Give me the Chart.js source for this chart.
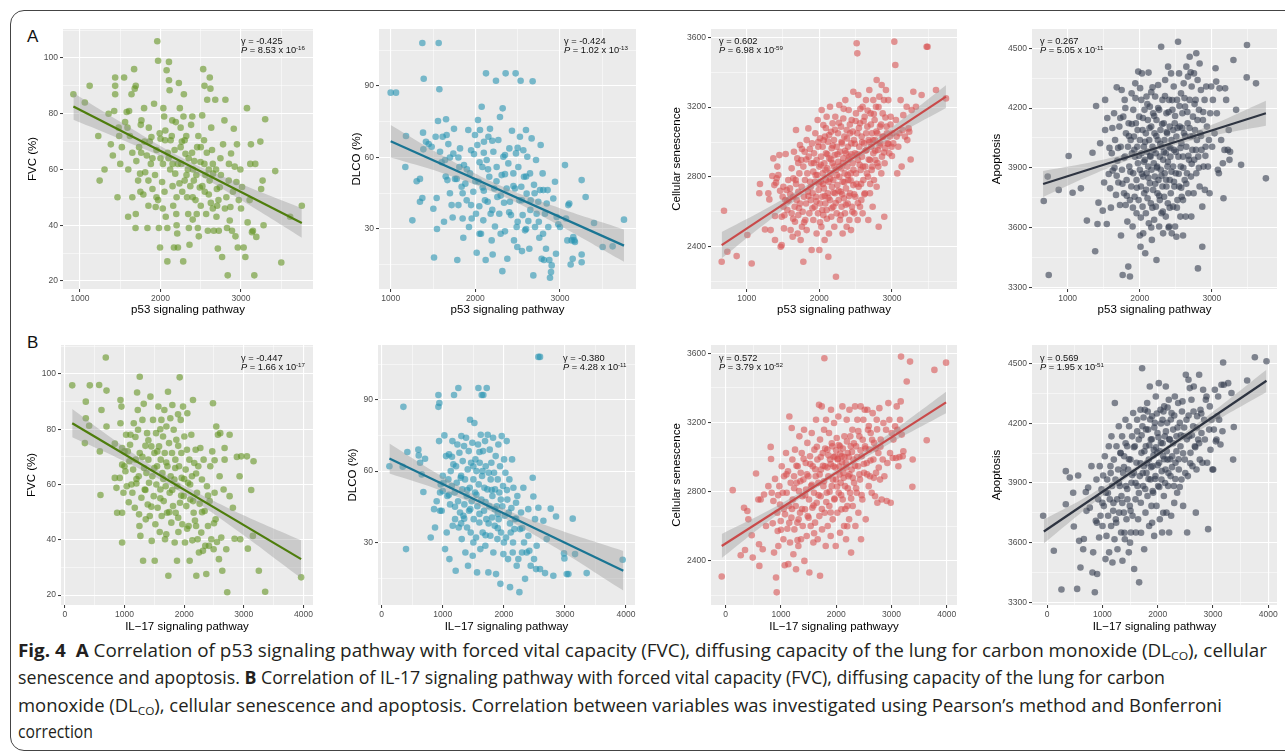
<!DOCTYPE html>
<html>
<head>
<meta charset="utf-8">
<script src="https://cdn.jsdelivr.net/npm/chart.js@4.4.0/dist/chart.umd.min.js"></script>
<style>
  html, body { margin: 0; padding: 0; background: #fff; overflow: hidden; }
  body { width: 1285px; height: 753px; position: relative; font-family: "Liberation Sans", Arial, sans-serif; }
  #frame { position: absolute; left: 10px; top: 10px; width: 1400px; height: 739px; border: 1.3px solid #444; border-radius: 14px; }
  canvas { position: absolute; }
  .letter { position: absolute; font-size: 17px; line-height: 18px; color: #111; }
  .note { position: absolute; font-size: 9.3px; line-height: 8.5px; color: #111; white-space: nowrap; }
  .note sup { font-size: 6.2px; position: relative; top: -3px; vertical-align: baseline; line-height: 0; }
  .cap { position: absolute; left: 18px; font-size: 18px; line-height: 20px; color: #231F20; white-space: nowrap; transform-origin: 0 50%;
         font-family: "Open Sans", "Noto Sans", sans-serif; }
  .cap sub { font-size: 11.5px; vertical-align: -3px; line-height: 0; }
</style>
</head>
<body>
<div id="frame"></div>
<div class="letter" style="left:27px;top:28px">A</div>
<div class="letter" style="left:27px;top:334px">B</div>

<canvas id="a1"></canvas><canvas id="a2"></canvas><canvas id="a3"></canvas><canvas id="a4"></canvas>
<canvas id="b1"></canvas><canvas id="b2"></canvas><canvas id="b3"></canvas><canvas id="b4"></canvas>

<div class="note" style="left:241px;top:37px">γ = -0.425<br><i>P</i> = 8.53 x 10<sup>-16</sup></div>
<div class="note" style="left:564px;top:37px">γ = -0.424<br><i>P</i> = 1.02 x 10<sup>-13</sup></div>
<div class="note" style="left:719px;top:37px">γ = 0.602<br><i>P</i> = 6.98 x 10<sup>-59</sup></div>
<div class="note" style="left:1040px;top:37px">γ = 0.267<br><i>P</i> = 5.05 x 10<sup>-11</sup></div>
<div class="note" style="left:241px;top:354px">γ = -0.447<br><i>P</i> = 1.66 x 10<sup>-17</sup></div>
<div class="note" style="left:563px;top:354px">γ = -0.380<br><i>P</i> = 4.28 x 10<sup>-11</sup></div>
<div class="note" style="left:719px;top:354px">γ = 0.572<br><i>P</i> = 3.79 x 10<sup>-52</sup></div>
<div class="note" style="left:1040px;top:354px">γ = 0.569<br><i>P</i> = 1.95 x 10<sup>-51</sup></div>

<div class="cap" data-w="1249" style="top:640px"><b>Fig. 4</b>&nbsp; <b>A</b> Correlation of p53 signaling pathway with forced vital capacity (FVC), diffusing capacity of the lung for carbon monoxide (DL<sub>CO</sub>), cellular</div>
<div class="cap" data-w="1147" style="top:667px">senescence and apoptosis. <b>B</b> Correlation of IL-17 signaling pathway with forced vital capacity (FVC), diffusing capacity of the lung for carbon</div>
<div class="cap" data-w="1204" style="top:695px">monoxide (DL<sub>CO</sub>), cellular senescence and apoptosis. Correlation between variables was investigated using Pearson’s method and Bonferroni</div>
<div class="cap" data-w="75" style="top:721px">correction</div>

<script>
// ---- tick labels ----
const fvcTicks = [20, 40, 60, 80, 100];
const dlcoTicks = [30, 60, 90];
const senTicks = [2400, 2800, 3200, 3600];
const apoTicks = [3300, 3600, 3900, 4200, 4500];
const p53Ticks = [1000, 2000, 3000];
const il17Ticks = [0, 1000, 2000, 3000, 4000];

// ---- A: p53 signaling pathway ----
const fvcP53 = [[918,87],[1060,84],[1120,90],[1227,72],[1244,56],[1305,60],[1355,80],[1383,69],[1408,65],[1425,81],[1437,93],[1437,90],[1437,87],[1466,50],[1487,72],[1480,75],[1548,93],[1580,80.6],[1610,81],[1590,75],[1640,87],[1680,89],[1693,90],[1672,96],[1650,50],[1598,43],[1693,44],[1690,39],[1722,56],[1734,68],[1746,58.5],[1755,76],[1763,77.6],[1787,51],[1796,82],[1830,65],[1838,39],[1855,75],[1866,70],[1887,71.6],[1920,83.6],[1932,58],[1940,46.5],[1960,106],[1970,99],[1970,49],[1980,39],[1994,32],[2020,55.5],[2028,46],[2030,62],[2035,82],[2045,79],[2057,70.5],[2065,43],[2076,95.6],[2085,27],[2085,39],[2105,98.6],[2105,92],[2113,88.4],[2126,70.5],[2146,77.6],[2150,54],[2158,47],[2167,32],[2175,67],[2183,58.5],[2196,44],[2208,37],[2216,32],[2228,91],[2240,82],[2250,75],[2258,62],[2270,52],[2282,27],[2290,87],[2300,70.5],[2310,65.6],[2323,58],[2330,50],[2344,44],[2352,39],[2360,33],[2380,76],[2392,66],[2405,60],[2414,56],[2435,49],[2455,68],[2464,39],[2476,36],[2488,53.5],[2497,62.7],[2518,79.4],[2530,96],[2540,70.5],[2546,90],[2558,58],[2567,44],[2580,85],[2588,38],[2600,51],[2612,93],[2620,89],[2630,75],[2640,67],[2653,58.5],[2662,38],[2680,85],[2695,43],[2703,47],[2712,31.6],[2724,38],[2736,53.6],[2744,64],[2765,28.6],[2777,69],[2794,77.6],[2806,85],[2818,50],[2826,39],[2835,22],[2847,56],[2860,41.7],[2868,46.5],[2876,65.7],[2888,38],[2910,74.6],[2922,61],[2931,36],[2943,55.5],[2950,69],[2960,32],[2972,49],[2992,60],[3013,53.7],[3033,32],[3054,28.6],[3074,82],[3082,41],[3107,49],[3115,62],[3123,69],[3136,37.5],[3148,38],[3165,22],[3177,62],[3190,35.8],[3240,70],[3250,53],[3268,56],[3300,78],[3280,40],[3425,59.4],[3500,26.6],[3755,47],[3610,43],
  [2060,74],[2090,66],[2120,60],[2140,72],[2190,77],[2215,62],[2235,55],[2265,70],[2285,79],[2320,72],[2340,60],[2370,54],[2395,79],[2420,63],[2445,58],[2470,72],[2500,47],[2520,54],[2545,62],[2575,66],[2610,56],[2625,48],[2650,62],[2690,60],[2720,49],[1880,62],[1900,53],[1950,67],[1990,73],[2000,64],[1810,59],[1850,47],[1760,66],[1700,63],[1620,72],[1560,77],[1520,68],
  [1500,62],[1600,60],[1650,66],[1750,52],[1800,70],[1850,56],[1900,64],[1950,50],[2000,71],[2050,52],[2100,64],[2150,62],[2200,50],[2250,68],[2300,56],[2350,64],[2400,50],[2450,44],[2500,68],[2550,52],[2600,60],[2650,46],[2700,53],[2750,58],[2800,46],[2850,62],[2900,52],[3000,46],[2200,40],[2400,42]];
const fvcP53Fit = [[918,82.6],[3755,40.8]];
const fvcP53Band = [[918,77.8,87.4],[1500,70.9,77.1],[2300,60.7,63.7],[3000,49.0,54.8],[3755,35.5,46.1]];

const dlcoP53 = [[1000,87.2],[1063,87.2],[1181,69],[1173,56],[1256,33.6],[1307,50],[1346,51],[1346,41.4],[1374,43],[1374,108],[1390,93],[1382,70.4],[1386,63.4],[1417,66.6],[1449,65.6],[1484,64.5],[1504,38.5],[1512,18],[1531,68.7],[1543,43],[1547,30],[1559,75.3],[1567,108],[1575,88.6],[1583,62.4],[1602,58],[1614,68.7],[1630,33],[1642,58.9],[1654,76],[1661,69.4],[1670,50.5],[1681,65.6],[1700,60],[1720,40],[1732,34.8],[1740,61.6],[1748,72],[1760,51],[1780,51],[1787,17],[1800,40],[1811,56],[1819,63.8],[1838,47.7],[1850,34.4],[1858,26.3],[1866,56.8],[1882,49],[1898,42],[1917,71.5],[1925,30.8],[1937,53.3],[1957,34.4],[1976,45.6],[1984,61.4],[1996,69.4],[2008,36.4],[2016,20],[2024,65.2],[2031,75.7],[2039,49.8],[2047,39.5],[2055,71.5],[2067,28],[2075,81.3],[2083,56],[2087,47.4],[2094,33.6],[2102,66.6],[2114,42],[2122,17],[2126,95.3],[2134,58.9],[2146,41.4],[2154,68.7],[2165,51.9],[2173,72],[2181,36.4],[2193,25.2],[2205,19.3],[2213,62.4],[2224,47],[2232,31],[2244,92.2],[2252,56],[2260,43.4],[2272,67.3],[2283,36.4],[2291,77],[2299,28],[2311,52.6],[2319,12.3],[2323,80.6],[2331,60.3],[2339,41],[2350,29],[2358,95.3],[2370,47],[2378,17.5],[2390,57.5],[2402,63.8],[2409,41.4],[2421,35.8],[2433,71.2],[2449,53.3],[2457,25.2],[2469,47],[2476,95.3],[2480,61.7],[2488,30.8],[2496,22.4],[2508,56],[2520,42],[2527,68.7],[2535,92.2],[2543,47.7],[2551,20.7],[2559,35.8],[2567,63],[2575,51.9],[2587,29.4],[2598,71.5],[2606,44.8],[2614,60.3],[2626,33.3],[2638,21.7],[2646,53.3],[2654,42],[2665,68],[2677,92],[2685,10.5],[2693,48.5],[2705,30.8],[2717,58.9],[2724,36.4],[2744,41.4],[2756,26.3],[2764,46.3],[2772,65.2],[2783,17.5],[2795,53.3],[2803,46.3],[2811,17],[2823,36.4],[2835,21.7],[2843,40.7],[2854,46.3],[2862,30.8],[2874,17],[2882,9.5],[2894,11.9],[2902,14.7],[2921,42.8],[2941,49.8],[2953,19.6],[2961,35],[2980,32],[3000,30.8],[3059,56.8],[3071,34.4],[3087,25.2],[3098,40],[3110,40.7],[3126,15.1],[3138,25.2],[3150,17.5],[3157,26.6],[3169,25.2],[3177,24.5],[3256,50.5],[3256,19.3],[3303,43.4],[3256,16],[3402,32.5],[3504,22.4],[3622,22.7],[3756,33.9],
  [1800,60],[1850,45],[1900,55],[1950,40],[2000,50],[2050,58],[2100,46],[2150,55],[2200,38],[2250,50],[2300,44],[2350,53],[2400,37],[2450,48],[2500,33],[2550,42],[2600,52],[2650,38],[2700,45],[2750,33],[2100,62],[2200,67],[1950,63],[2350,61],[2500,64],[2600,30],[2800,28],[2050,28],[1700,45],[1650,52]];
const dlcoP53Fit = [[1000,66.8],[3756,23.0]];
const dlcoP53Band = [[1000,60.0,73.6],[1600,53.6,61.0],[2300,44.1,48.1],[3000,31.3,38.7],[3756,16.2,29.8]];

const senP53 = [[656,2314],[688,2606],[734,2371],[862,2346],[1009,2467],[1069,2304],[1183,2759],[1174,2706],[1252,2499],[1330,2495],[1298,2706],[1312,2671],[1353,2805],[1367,2906],[1381,2753],[1390,2576],[1390,2438],[1404,2767],[1413,2792],[1422,2859],[1436,2811],[1450,2925],[1468,2400],[1482,2572],[1482,2409],[1495,2686],[1505,2744],[1505,2629],[1514,2505],[1532,2667],[1537,2931],[1550,2725],[1560,2610],[1573,2782],[1582,2667],[1596,2734],[1605,2495],[1619,2849],[1619,2591],[1633,2457],[1642,2792],[1642,2686],[1651,2944],[1660,2629],[1665,2543],[1674,2782],[1679,3069],[1688,2667],[1697,2906],[1702,2476],[1711,2715],[1711,2581],[1725,2820],[1734,2983],[1734,2648],[1743,2438],[1752,2897],[1757,2744],[1761,2514],[1771,2600],[1780,2314],[1780,2859],[1789,2686],[1798,2944],[1803,2782],[1807,2553],[1817,2648],[1826,2495],[1826,3011],[1835,2820],[1844,2715],[1849,3078],[1853,2916],[1862,2591],[1872,2772],[1881,2667],[1890,2878],[1894,2381],[1899,2992],[1908,2706],[1917,2553],[1917,2830],[1927,2935],[1936,2629],[1940,2772],[1945,3050],[1954,2686],[1963,2897],[1963,2476],[1972,2811],[1977,3126],[1982,2591],[1986,2973],[1991,2725],[2000,2381],[2000,2859],[2009,2648],[2009,3021],[2018,2772],[2023,2916],[2028,2514],[2032,3183],[2037,2686],[2046,2820],[2046,2973],[2055,2581],[2055,3097],[2064,2734],[2069,2878],[2073,2438],[2078,3031],[2083,2648],[2092,2782],[2092,2935],[2101,3145],[2101,2610],[2110,2849],[2115,2706],[2119,3002],[2124,2342],[2128,2772],[2133,2476],[2138,2906],[2147,3202],[2147,2667],[2156,2820],[2161,3059],[2165,2572],[2170,2964],[2174,2744],[2183,3107],[2183,2878],[2193,2629],[2193,2782],[2202,3011],[2206,2514],[2211,2925],[2215,2706],[2220,3145],[2229,2840],[2229,2228],[2239,2591],[2239,2973],[2248,2753],[2257,3050],[2261,2887],[2266,2667],[2275,2801],[2275,3212],[2284,2553],[2284,2944],[2293,2715],[2298,3088],[2303,2849],[2307,2629],[2312,2992],[2321,2772],[2321,2476],[2330,2906],[2330,3135],[2339,2677],[2344,3031],[2349,2820],[2353,2591],[2358,3240],[2367,2935],[2367,2734],[2376,2514],[2376,3069],[2385,2859],[2390,2648],[2394,2973],[2399,2782],[2404,3183],[2413,2553],[2413,2916],[2422,2706],[2422,3050],[2431,2820],[2436,2495],[2440,2992],[2445,3126],[2450,2629],[2459,2878],[2468,2753],[2468,3288],[2477,3011],[2482,2591],[2491,2935],[2495,2686],[2505,3164],[2505,2820],[2514,3566],[2523,3508],[2523,3050],[2528,2553],[2532,2897],[2537,3269],[2541,2744],[2550,2973],[2560,2629],[2560,3107],[2569,2840],[2578,2667],[2583,3031],[2587,2916],[2596,3202],[2596,2591],[2606,2782],[2615,2992],[2624,3145],[2628,2706],[2633,2859],[2642,3240],[2651,2954],[2661,3088],[2670,2801],[2674,2553],[2679,3011],[2688,3298],[2697,2897],[2697,2706],[2706,3164],[2716,2973],[2720,2840],[2725,3050],[2734,2629],[2743,3240],[2743,2935],[2752,2782],[2761,3126],[2766,3011],[2771,2897],[2780,3202],[2789,3355],[2789,2744],[2798,3050],[2807,2954],[2812,2859],[2817,2514],[2826,3260],[2835,3088],[2844,2992],[2853,2820],[2858,3327],[2862,2916],[2872,3164],[2881,3031],[2890,3240],[2894,2572],[2899,2878],[2908,2964],[2917,3298],[2926,3088],[2936,2992],[2950,3240],[2963,2935],[2972,3031],[2982,3145],[2995,2973],[3009,3050],[3018,2992],[3032,3575],[3046,3441],[3055,3126],[3064,3031],[3073,2820],[3087,2973],[3101,3050],[3119,3240],[3133,2859],[3147,3069],[3156,3154],[3179,3031],[3202,3202],[3211,3011],[3229,3078],[3238,3059],[3257,2900],[3271,3183],[3294,3288],[3330,3202],[3477,3546],[3490,3546],[3408,3269],[3606,3298],[3743,3250],
  [1710,2880],[1760,2960],[1790,2540],[1820,2900],[1850,2690],[1870,2960],[1880,2740],[1905,2620],[1925,2880],[1950,2810],[1960,2660],[1985,3000],[1995,2760],[2010,2540],[2020,2870],[2040,2610],[2050,2760],[2060,3010],[2075,2690],[2085,2840],[2090,3080],[2105,2560],[2110,2930],[2125,2680],[2135,3040],[2150,2790],[2160,2900],[2170,2620],[2185,2980],[2195,2710],[2205,2860],[2215,3070],[2225,2650],[2240,2810],[2250,2930],[2265,2720],[2270,3110],[2280,2860],[2295,2580],[2305,3000],[2315,2700],[2325,2880],[2335,3190],[2345,2770],[2355,2950],[2365,2640],[2380,3020],[2390,2810],[2400,2900],[2410,2690],[2420,3100],[2430,2780],[2440,2930],[2455,2600],[2460,3060],[2470,2840],[2480,2700],[2490,2990],[2500,3120],[2510,2760],[2520,2930],[2530,2650],[2545,3080],[2555,2870],[2565,3190],[2575,2760],[2590,3000],[2600,2860],[2610,3120],[2620,2700],[2635,2950],[2645,3050],[2655,2820],[2665,3180],[2680,2900],[2690,3000],[2700,2760],[2710,3100],[2730,2860],[2740,3010],[2750,3160],[2770,2950],[2785,3060],[2800,2880],[2815,3200],[2830,2980],[2850,3100],[2870,3030],[2890,2940],[2910,3140],[2930,3050],[2950,2990],[2980,3100],[3000,2920],[1600,2700],[1640,2560],[1680,2760],[1720,2620],[1560,2660],[1520,2580],[1460,2720]];
const senP53Fit = [[656,2409],[3743,3260]];
const senP53Band = [[656,2334,2484],[1400,2579,2649],[2250,2833,2863],[3000,3025,3085],[3743,3195,3325]];

const apoP53 = [[669,3733],[738,3362],[724,3856],[876,3789],[1014,3959],[1069,3775],[1184,3797],[1267,3635],[1345,3976],[1382,3481],[1395,4210],[1414,3618],[1428,3725],[1451,4023],[1487,3685],[1506,3826],[1520,4241],[1543,3618],[1520,4090],[1570,3869],[1589,3797],[1612,3973],[1625,3886],[1644,4174],[1658,4040],[1671,3764],[1681,4304],[1690,3936],[1703,3826],[1717,4107],[1726,3713],[1736,4006],[1749,4291],[1754,3890],[1763,3362],[1772,4157],[1782,3772],[1791,4241],[1795,3956],[1805,3713],[1809,4073],[1818,3839],[1828,3630],[1837,4006],[1841,3404],[1846,4124],[1855,3906],[1864,3354],[1864,3738],[1874,4040],[1883,3806],[1887,4274],[1892,3973],[1901,3605],[1910,4191],[1910,3873],[1920,4057],[1929,3755],[1933,3956],[1938,4324],[1947,4124],[1956,3839],[1956,3672],[1966,4006],[1975,3923],[1979,4383],[1984,3738],[1993,4157],[2002,3890],[2002,4040],[2011,3504],[2016,3806],[2021,4241],[2025,3973],[2030,4374],[2039,3705],[2039,4090],[2048,3856],[2048,3571],[2057,4006],[2062,3772],[2066,4191],[2071,3940],[2076,3471],[2085,4073],[2085,3672],[2094,3873],[2094,4258],[2103,3981],[2108,3747],[2112,4140],[2117,3906],[2122,4378],[2126,3622],[2131,4040],[2140,3823],[2140,4207],[2149,3956],[2154,3722],[2159,4107],[2163,3890],[2168,3538],[2177,4006],[2177,4304],[2186,3789],[2186,4174],[2195,3923],[2200,3639],[2205,4073],[2209,3856],[2214,4258],[2223,3973],[2223,3705],[2232,4140],[2232,3437],[2241,3906],[2246,3772],[2251,4040],[2255,4316],[2260,3839],[2269,4191],[2269,3605],[2278,3956],[2278,3738],[2287,4090],[2292,3890],[2297,4508],[2301,3672],[2306,4006],[2315,4241],[2315,3806],[2324,3940],[2324,3571],[2333,4124],[2338,3755],[2343,4040],[2347,3873],[2352,4341],[2361,3655],[2361,3973],[2370,4174],[2370,3806],[2379,4073],[2384,3906],[2389,3722],[2393,4408],[2398,4006],[2407,4241],[2407,3605],[2416,3839],[2416,4107],[2425,3956],[2430,3772],[2434,4374],[2439,4040],[2444,3571],[2453,4191],[2462,3906],[2462,3705],[2471,4308],[2476,3990],[2480,3806],[2485,4124],[2490,3605],[2499,3873],[2508,4057],[2508,3554],[2517,4241],[2522,3738],[2531,4533],[2536,3956],[2545,4374],[2545,3806],[2554,4107],[2563,3655],[2568,3906],[2572,4274],[2577,4023],[2582,3755],[2591,4174],[2600,3956],[2600,3738],[2609,4324],[2614,4073],[2623,3839],[2628,4207],[2637,3655],[2646,4006],[2646,4408],[2655,3873],[2664,4124],[2669,4358],[2674,3772],[2683,3940],[2692,4241],[2692,4458],[2701,4057],[2710,3856],[2715,3655],[2720,4308],[2729,3990],[2738,4157],[2747,3772],[2752,4374],[2756,3940],[2766,4090],[2775,4241],[2784,4475],[2784,3873],[2793,4040],[2802,4341],[2807,3395],[2811,3956],[2821,4191],[2830,4424],[2830,3806],[2839,4073],[2848,4291],[2857,3990],[2867,3504],[2867,3705],[2876,4140],[2885,3906],[2899,4241],[2903,3789],[2913,4006],[2922,4308],[2931,4107],[2945,3906],[2959,4040],[2968,3772],[2977,4174],[2991,4308],[3004,4006],[3014,4241],[3037,4073],[3051,4400],[3060,4333],[3069,4174],[3083,3890],[3097,3873],[3106,4299],[3129,4040],[3152,3923],[3161,3747],[3175,3990],[3184,4299],[3198,4241],[3221,3990],[3234,4090],[3244,3940],[3253,3981],[3299,4441],[3336,4191],[3405,3915],[3483,4354],[3487,4517],[3612,4324],[3749,3847],
  [1700,4000],[1730,4150],[1760,3820],[1780,3950],[1800,4200],[1820,3760],[1850,4060],[1870,3880],[1890,4120],[1905,3700],[1925,3990],[1940,4250],[1960,3800],[1970,4090],[1990,3960],[2005,4300],[2015,3650],[2030,3870],[2045,4150],[2060,3930],[2075,4030],[2090,3790],[2105,4220],[2120,3850],[2135,4100],[2145,3960],[2160,4280],[2175,3700],[2190,3990],[2200,4160],[2215,3820],[2230,4060],[2240,3900],[2255,4200],[2270,3760],[2285,4020],[2300,3860],[2310,4120],[2320,3680],[2335,3980],[2350,4260],[2365,3840],[2375,4080],[2390,3930],[2400,4180],[2415,3700],[2425,4000],[2440,3880],[2450,4240],[2465,4090],[2475,3830],[2490,4160],[2500,3980],[2515,3700],[2525,4100],[2540,3870],[2550,4210],[2565,4000],[2575,3800],[2590,4100],[2605,3900],[2620,4250],[2630,4060],[2645,3820],[2660,4180],[2675,3960],[2690,4100],[2705,4380],[2720,3920],[2740,4060],[2760,4220],[2780,3990],[2800,4140],[2820,3900],[2850,4060],[2880,4180],[2910,3960],[1650,3900],[1620,4100],[1580,4000],[1550,4150],[1600,3700],[1680,3860],[1740,3560],[2000,3560],[2160,3600],[2400,3600],[2600,3560]];
const apoP53Fit = [[660,3819],[3749,4174]];
const apoP53Band = [[660,3754,3884],[1400,3874,3934],[2250,3989,4015],[3000,4060,4116],[3749,4111,4237]];

// ---- B: IL-17 signaling pathway ----
const fvcIl17 = [[123,95.9],[351,90],[418,95.9],[351,84],[407,81.3],[335,75],[586,72],[575,96],[597,56.2],[614,87],[698,94],[698,81],[686,106],[837,74.8],[837,62.4],[865,58.8],[876,49.8],[921,62.4],[932,90.6],[949,88.2],[932,82.2],[960,73.2],[960,67.2],[960,49.8],[960,39],[982,57],[999,66.6],[1015,64.8],[1026,78],[1037,59.4],[1054,72],[1071,53.6],[1082,68.4],[1093,74.4],[1116,60],[1132,57],[1144,65.4],[1155,82.2],[1172,51.6],[1183,77.2],[1188,69],[1199,60.4],[1211,93.3],[1222,87],[1227,79.8],[1238,63],[1244,49.2],[1255,99],[1255,71.4],[1266,41.4],[1283,55.2],[1300,83.4],[1311,32.4],[1322,89.2],[1328,66],[1339,58.2],[1350,74],[1356,47.4],[1367,64.2],[1378,78.6],[1389,52.8],[1400,69],[1411,60.6],[1423,48.6],[1434,91.8],[1450,73.8],[1456,39.6],[1467,63],[1478,83.4],[1490,55.8],[1501,71.4],[1506,32.4],[1517,45.6],[1529,78.6],[1534,60],[1545,66.6],[1556,51.6],[1568,88.2],[1579,73.8],[1590,42.8],[1601,58.2],[1607,69],[1618,83.4],[1623,48.6],[1635,64.2],[1646,77.4],[1657,54],[1668,87],[1674,71.4],[1679,40.2],[1690,59.4],[1702,81],[1713,49.8],[1719,66.6],[1729,93.6],[1735,27],[1746,75],[1757,57],[1768,84],[1774,63],[1785,46.2],[1796,71.4],[1802,88.8],[1813,52.2],[1824,79.8],[1836,61.8],[1841,39],[1852,69],[1858,49.8],[1869,76.2],[1880,32.4],[1886,59.4],[1897,85.4],[1903,42.8],[1914,66.6],[1925,98.8],[1930,53.4],[1942,83.4],[1953,71.4],[1958,62.4],[1969,45.6],[1981,88.2],[1992,55.8],[2003,77.4],[2014,39],[2025,65.4],[2036,52.2],[2047,72.6],[2053,85.8],[2064,60.6],[2075,45],[2087,69],[2092,32.4],[2103,54.6],[2120,78],[2131,63],[2137,39.8],[2148,90.6],[2159,49.8],[2170,67.8],[2181,47],[2192,72.6],[2204,27],[2215,57],[2226,40.2],[2237,66.6],[2248,35.4],[2259,53],[2271,73.2],[2287,42.6],[2298,61.8],[2315,36],[2326,69],[2343,50.4],[2354,37.8],[2371,27.6],[2382,59.4],[2399,45],[2416,37.8],[2427,54],[2438,66.6],[2455,40.2],[2471,72],[2483,89.4],[2494,36.6],[2510,57],[2510,68.8],[2527,47.4],[2538,81],[2550,39.2],[2566,78],[2583,33],[2594,63],[2605,78.6],[2622,40.8],[2639,28.8],[2661,58.2],[2678,69],[2706,36.6],[2722,21],[2762,78],[2817,51.6],[2845,40.4],[2884,70],[2929,63],[2940,40.2],[2957,70.2],[3052,70.2],[3068,36.8],[3124,58],[3163,68.4],[3252,28.8],[3358,21.2],[3152,41.4],[3961,26.4],[2762,55.8],[2678,73.2],
  [1000,72],[1100,78],[1200,62],[1300,70],[1350,58],[1400,76],[1450,52],[1500,66],[1550,72],[1600,55],[1650,62],[1700,68],[1750,50],[1800,58],[1850,66],[1900,48],[1950,56],[2000,62],[2050,44],[2100,60],[2150,54],[2200,64],[2300,50],[2400,56],[2500,46],[1250,45],[1700,42],[2200,45],[1900,74],[1600,80]];
const fvcIl17Fit = [[123,82.2],[3961,33.0]];
const fvcIl17Band = [[123,77.1,87.3],[900,69.4,75.0],[1750,59.8,62.8],[2700,46.3,51.9],[3961,26.2,39.8]];

const dlcoIl17 = [[126,62],[344,61.8],[355,87],[398,27.2],[420,68],[600,69],[606,66.6],[628,63.5],[655,58.6],[682,51.2],[709,65.2],[802,32.1],[857,44],[873,36.3],[900,47.3],[928,87],[928,92],[944,88.6],[939,72.6],[955,43.3],[955,51],[966,54.4],[982,43.3],[999,51.6],[1010,55.1],[1026,75],[1037,27.2],[1053,66.3],[1064,34.2],[1075,49.5],[1091,56.5],[1102,67],[1108,23],[1119,46],[1130,60],[1146,53.7],[1157,72.6],[1162,37],[1173,62.8],[1184,92],[1195,51],[1201,39.8],[1211,18.1],[1217,62],[1228,55.1],[1239,71.2],[1250,47.3],[1255,94.9],[1261,36.3],[1272,67.7],[1282,42.6],[1293,57.2],[1304,74.7],[1310,31.4],[1321,52.3],[1326,64.2],[1337,41.2],[1348,70.5],[1353,46],[1364,56.5],[1370,25.8],[1381,74],[1392,49.5],[1397,36.3],[1408,60.7],[1413,20.2],[1424,68.4],[1430,43.3],[1441,53],[1446,81.6],[1457,34.2],[1463,63.5],[1473,47.3],[1484,71.9],[1490,24.4],[1501,56.5],[1506,39.8],[1517,80.2],[1528,51],[1534,64.9],[1544,32.1],[1550,60],[1561,17.4],[1566,45.2],[1577,71.2],[1583,94.9],[1588,54.4],[1599,38.4],[1604,63.5],[1615,27.2],[1621,75.3],[1632,48],[1637,92],[1643,57.9],[1653,34.2],[1659,68.4],[1664,92],[1675,43.3],[1681,53],[1692,72.6],[1697,28.6],[1703,62],[1713,39.8],[1719,94.9],[1730,52.3],[1735,75.3],[1746,17.4],[1752,59.3],[1763,45.2],[1768,69],[1779,32.8],[1784,56.5],[1795,63.5],[1806,40.5],[1812,49.5],[1823,74],[1828,25.8],[1839,59.3],[1850,37],[1855,52.3],[1866,66.3],[1872,16.7],[1883,45.2],[1894,31.4],[1899,56.5],[1910,71.2],[1915,39.8],[1926,51],[1937,62],[1943,12.6],[1954,34.2],[1965,74.7],[1975,45.2],[1986,53.7],[1992,25.1],[2003,64.9],[2014,41.2],[2025,59.3],[2035,32.1],[2046,72.6],[2057,48],[2068,23],[2079,42.6],[2090,56.5],[2101,11.2],[2112,34.2],[2123,44.5],[2134,64.9],[2145,25.8],[2156,53],[2172,35.6],[2183,39.8],[2199,46.7],[2210,20.2],[2221,49.5],[2237,23],[2254,9.1],[2265,35.6],[2281,42.6],[2297,25.8],[2319,53],[2330,30],[2347,14.7],[2374,25.8],[2401,32.8],[2417,26.5],[2439,20.2],[2472,57.2],[2483,49.3],[2494,23],[2510,39.8],[2527,18.8],[2537,28.6],[2565,44.6],[2565,108],[2592,108],[2592,18.8],[2647,39.1],[2674,17.1],[2701,31.4],[2767,44.2],[2854,40.9],[2985,25.4],[2991,23.3],[3029,16.7],[3057,16.7],[3127,40],[3165,25.1],[3356,17.1],[2810,16],[3945,22.7],
  [1000,58],[1100,50],[1200,45],[1300,58],[1350,40],[1400,52],[1450,44],[1500,62],[1550,50],[1600,42],[1650,60],[1700,47],[1750,38],[1800,52],[1850,44],[1900,36],[1950,48],[2000,30],[2050,52],[2100,38],[2150,30],[2200,40],[2300,36],[2400,44],[1500,30],[1700,33],[1300,38],[1150,66],[1600,68],[1900,42]];
const dlcoIl17Fit = [[126,65.3],[3956,18.1]];
const dlcoIl17Band = [[126,59.0,71.6],[900,52.5,59.1],[1750,43.5,47.1],[2700,30.1,37.1],[3956,9.8,26.4]];

const senIl17 = [[-72,2310],[127,2809],[272,2433],[332,2707],[350,2463],[392,2688],[410,2640],[471,2548],[489,2419],[549,2905],[591,2755],[603,2496],[609,2371],[633,2755],[670,2467],[694,2784],[730,2602],[772,2832],[814,3059],[821,2989],[833,2794],[851,2617],[863,2746],[875,2448],[893,2874],[911,2304],[923,2218],[935,2678],[941,2573],[953,2486],[971,2832],[983,2726],[996,2630],[1014,2947],[1032,2794],[1044,2525],[1056,2889],[1068,2375],[1074,2669],[1092,3024],[1104,2794],[1116,2586],[1128,2918],[1134,2381],[1146,2717],[1152,3235],[1164,2506],[1176,2851],[1189,2650],[1195,3168],[1207,2986],[1213,2755],[1225,2438],[1237,2889],[1243,2582],[1255,3043],[1267,2717],[1273,2352],[1285,2851],[1297,2621],[1303,2947],[1315,2486],[1327,2803],[1333,3120],[1345,2678],[1357,2909],[1363,2525],[1376,3024],[1388,2774],[1394,2602],[1406,2870],[1418,3158],[1424,2400],[1436,2698],[1448,2966],[1454,2813],[1466,2544],[1478,3082],[1484,2659],[1496,2889],[1508,2755],[1514,2333],[1526,3005],[1538,2602],[1545,2832],[1557,3139],[1569,2707],[1575,2947],[1587,2506],[1599,2794],[1605,3043],[1617,2621],[1629,2889],[1635,3216],[1647,2736],[1659,2986],[1665,2525],[1677,2851],[1689,3302],[1695,2659],[1707,3101],[1707,2314],[1719,2774],[1725,2928],[1738,3293],[1744,2582],[1756,3024],[1768,2832],[1780,3158],[1786,3571],[1792,2678],[1798,2947],[1810,2486],[1816,3216],[1828,2794],[1840,3043],[1846,2602],[1858,2889],[1870,3139],[1876,2717],[1888,2986],[1900,2544],[1906,3274],[1919,2832],[1931,3062],[1937,2640],[1949,2947],[1961,3197],[1967,2755],[1979,3005],[1991,2486],[1997,2870],[2009,3110],[2021,2678],[2027,2986],[2039,3235],[2045,2794],[2057,2947],[2069,2563],[2069,3062],[2081,2851],[2094,2698],[2100,3005],[2112,3293],[2118,2755],[2130,2909],[2142,2602],[2148,3120],[2160,2832],[2172,2966],[2178,2525],[2190,3216],[2202,2717],[2208,3024],[2220,2889],[2233,2640],[2239,3274],[2251,2794],[2263,3062],[2269,2448],[2281,2928],[2293,3158],[2299,2717],[2311,2986],[2323,2851],[2341,3293],[2347,2602],[2359,3062],[2371,2794],[2383,3216],[2395,2947],[2401,2678],[2419,3120],[2431,2870],[2443,3293],[2449,2525],[2461,3005],[2473,2755],[2491,3216],[2504,2909],[2516,3274],[2522,3062],[2534,2640],[2552,2966],[2564,3274],[2576,3158],[2588,2832],[2600,3043],[2612,2889],[2624,3139],[2642,2794],[2660,3254],[2673,2986],[2685,3082],[2703,2774],[2721,2909],[2733,3216],[2745,2736],[2763,3024],[2781,3283],[2793,2870],[2805,3101],[2823,2755],[2842,2986],[2854,3197],[2872,2889],[2902,3158],[2914,2746],[2926,2966],[2944,3312],[2962,3216],[2974,3024],[2986,2736],[3005,3139],[3023,2995],[3035,3101],[3065,3178],[3083,2995],[3095,3293],[3107,3158],[3125,2947],[3143,3000],[3155,3216],[3167,3322],[3173,3581],[3185,3130],[3203,3005],[3215,3034],[3336,3552],[3276,3437],[3384,2986],[3378,2828],[3638,3097],[3777,3504],[3988,3546],
  [1200,2700],[1240,2820],[1280,2950],[1320,2640],[1350,2860],[1380,2700],[1410,2990],[1440,2780],[1470,2900],[1500,2650],[1530,2960],[1560,2840],[1590,2720],[1620,2930],[1650,3060],[1680,2780],[1700,2900],[1720,3000],[1740,2700],[1760,2950],[1780,2860],[1800,3050],[1820,2740],[1840,2940],[1860,3010],[1880,2800],[1900,2960],[1920,3080],[1940,2870],[1955,3000],[1970,2760],[1985,2940],[2000,3040],[2015,2830],[2030,2990],[2045,3070],[2060,2900],[2075,3020],[2090,2780],[2105,2970],[2120,3050],[2135,2880],[2150,3000],[2165,2700],[2180,2940],[2195,3090],[2210,2820],[2225,3000],[2240,2900],[2255,3120],[2270,2760],[2285,3030],[2300,2880],[2320,3080],[2340,2950],[2360,2820],[2380,3000],[2400,3150],[2420,2900],[2440,3040],[2460,2780],[2480,3100],[2500,2960],[2530,3050],[2560,2900],[2590,3180],[2620,2980],[2650,3100],[2680,2880],[2710,3050],[2740,3160],[2770,2940],[2800,3060],[1100,2900],[1050,2700],[1000,2580],[950,2780],[1150,2620],[1300,2520],[1600,2560],[1900,2680],[2200,2600]];
const senIl17Fit = [[-72,2486],[3988,3316]];
const senIl17Band = [[-72,2416,2556],[800,2635,2695],[1850,2865,2893],[2900,3066,3122],[3988,3254,3378]];

const apoIl17 = [[-72,3735],[121,3559],[259,3364],[338,3793],[338,3960],[410,3928],[471,3851],[483,3681],[543,3367],[561,3938],[579,3609],[603,3475],[652,3567],[664,3618],[700,3855],[712,3760],[742,3877],[772,3776],[802,3985],[820,3450],[833,3551],[863,3350],[881,3710],[893,3918],[905,3442],[923,3818],[941,3626],[953,3985],[966,3735],[984,3868],[1002,3684],[1014,3938],[1026,3784],[1044,4035],[1056,3517],[1062,3851],[1074,3634],[1086,3918],[1104,3735],[1116,4085],[1122,3551],[1134,3818],[1146,3985],[1158,3684],[1164,4135],[1176,3885],[1182,3500],[1195,3760],[1207,4018],[1219,3617],[1225,4303],[1237,3918],[1243,3718],[1255,4085],[1267,3818],[1273,3567],[1285,3968],[1297,4186],[1303,3751],[1315,3885],[1327,4052],[1339,3651],[1345,3835],[1357,4135],[1363,3509],[1376,3951],[1388,3751],[1394,4035],[1406,3617],[1418,4219],[1424,3885],[1436,3718],[1448,4085],[1454,3818],[1466,3968],[1478,3551],[1484,4186],[1496,3785],[1508,4018],[1515,3651],[1526,3901],[1538,4135],[1545,3735],[1557,4253],[1569,3951],[1575,3467],[1587,4085],[1599,3818],[1605,3651],[1617,4002],[1629,4219],[1635,3885],[1647,3718],[1659,4119],[1665,3400],[1677,3935],[1689,4269],[1695,3801],[1707,4052],[1719,4478],[1725,4186],[1738,3885],[1750,3985],[1756,3567],[1768,4269],[1780,3751],[1786,4085],[1798,3951],[1810,4303],[1816,3835],[1828,4169],[1840,4018],[1846,3684],[1858,4386],[1870,3918],[1876,4119],[1888,3785],[1900,4236],[1906,3985],[1919,3851],[1931,4068],[1937,3634],[1949,4203],[1961,3935],[1967,4336],[1979,3785],[1991,4052],[1997,4152],[2009,3885],[2021,4403],[2027,4002],[2039,3718],[2051,4269],[2057,4102],[2069,3918],[2081,3651],[2088,4219],[2100,4035],[2112,3835],[2118,4286],[2130,4135],[2142,3968],[2148,4386],[2160,3751],[2172,4203],[2178,4018],[2190,3885],[2202,4319],[2208,3651],[2220,4119],[2233,3935],[2245,3735],[2251,4253],[2263,4035],[2281,4169],[2293,3885],[2311,4336],[2323,4002],[2341,4135],[2353,3851],[2371,4303],[2383,3968],[2401,4203],[2413,4085],[2431,3918],[2449,4311],[2461,3785],[2473,4135],[2491,4018],[2510,4445],[2522,4219],[2534,3651],[2546,3935],[2558,4420],[2570,4135],[2582,4378],[2594,4052],[2612,4319],[2630,3985],[2642,4186],[2654,4386],[2673,4085],[2691,3751],[2703,3968],[2715,4236],[2733,4119],[2751,4445],[2763,4018],[2775,4269],[2793,4152],[2811,4002],[2823,4370],[2842,4219],[2854,4119],[2872,4319],[2884,4336],[2896,4002],[2914,3668],[2932,4169],[2944,4286],[2956,4068],[2974,4219],[2992,3968],[3005,3968],[3017,4169],[3035,4370],[3053,4110],[3065,4119],[3077,4236],[3095,4336],[3113,4219],[3137,4094],[3155,4395],[3173,4161],[3185,4507],[3197,4395],[3276,4403],[3336,4353],[3366,4018],[3378,4182],[3620,4416],[3759,4533],[3970,4513],
  [1300,3900],[1330,4050],[1360,3800],[1390,3980],[1420,4100],[1450,3870],[1480,4020],[1510,3760],[1540,3940],[1570,4080],[1600,3900],[1630,4160],[1660,3850],[1690,4000],[1710,4140],[1730,3950],[1745,4230],[1760,4060],[1775,3870],[1790,4170],[1805,4000],[1820,4260],[1835,3920],[1850,4090],[1865,4220],[1880,3980],[1895,4120],[1910,3860],[1925,4040],[1940,4180],[1955,3920],[1970,4080],[1985,4250],[2000,3990],[2015,4130],[2030,3880],[2045,4060],[2060,4200],[2075,3960],[2090,4100],[2105,4260],[2120,4020],[2135,3900],[2150,4160],[2165,4060],[2180,4280],[2195,3950],[2210,4120],[2225,4020],[2240,4220],[2260,3980],[2280,4100],[2300,4240],[2320,3920],[2340,4060],[2360,4180],[2380,4020],[2400,3880],[2420,4140],[2440,4260],[2460,4050],[2480,4180],[2500,3950],[2530,4120],[2560,4240],[2590,4000],[2620,4140],[2650,4260],[2680,4080],[2710,4180],[2750,4100],[2790,4250],[1100,3850],[1150,3950],[1200,3800],[1250,3700],[1000,3800],[900,3700],[1400,3650],[1500,3600],[1700,3650],[1900,3700],[2100,3750],[2300,3800]];
const apoIl17Fit = [[-60,3656],[3970,4415]];
const apoIl17Band = [[-60,3596,3716],[800,3791,3845],[1850,4004,4028],[2900,4188,4238],[3970,4359,4471]];

// ---- colours ----
const green = { pt: 'rgba(100,148,35,0.6)', line: '#4E7D0C' };
const blue  = { pt: 'rgba(40,148,178,0.6)', line: '#1A7593' };
const red   = { pt: 'rgba(215,80,80,0.58)',  line: '#C94A4A' };
const slate = { pt: 'rgba(52,60,78,0.6)',   line: '#2E3441' };

// ---- layout: grey panel box [left, top, right, bottom], y title centre, x title centre ----
const panels = [
  { id: 'a1', pts: fvcP53,  fit: fvcP53Fit,  band: fvcP53Band,  col: green, xt: p53Ticks,  yt: fvcTicks,  x: [789, 3894],  y: [17.1, 110.4],   box: [63, 29, 313, 289],    yTitleX: 33,  xTitleY: 310, xl: 'p53 signaling pathway', yl: 'FVC (%)' },
  { id: 'a2', pts: dlcoP53, fit: dlcoP53Fit, band: dlcoP53Band, col: blue,  xt: p53Ticks,  yt: dlcoTicks, x: [862, 3898],  y: [4.8, 113.9],    box: [379, 29, 636, 289],   yTitleX: 357, xTitleY: 310, xl: 'p53 signaling pathway', yl: 'DLCO (%)' },
  { id: 'a3', pts: senP53,  fit: senP53Fit,  band: senP53Band,  col: red,   xt: p53Ticks,  yt: senTicks,  x: [509, 3895],  y: [2157.6, 3647.6], box: [711, 29, 957, 289],  yTitleX: 677, xTitleY: 310, xl: 'p53 signaling pathway', yl: 'Cellular senescence' },
  { id: 'a4', pts: apoP53,  fit: apoP53Fit,  band: apoP53Band,  col: slate, xt: p53Ticks,  yt: apoTicks,  x: [506, 3903],  y: [3291.5, 4597],  box: [1032, 29, 1277, 289], yTitleX: 997, xTitleY: 310, xl: 'p53 signaling pathway', yl: 'Apoptosis' },
  { id: 'b1', pts: fvcIl17,  fit: fvcIl17Fit,  band: fvcIl17Band,  col: green, xt: il17Ticks, yt: fvcTicks,  x: [-65, 4160],  y: [16.4, 110.5],  box: [61, 345, 313, 605],   yTitleX: 32,  xTitleY: 627, xl: 'IL\u221217 signaling pathway', yl: 'FVC (%)' },
  { id: 'b2', pts: dlcoIl17, fit: dlcoIl17Fit, band: dlcoIl17Band, col: blue,  xt: il17Ticks, yt: dlcoTicks, x: [-61, 4147],  y: [3.7, 113],     box: [378, 345, 635, 605],  yTitleX: 353, xTitleY: 627, xl: 'IL\u221217 signaling pathway', yl: 'DLCO (%)' },
  { id: 'b3', pts: senIl17,  fit: senIl17Fit,  band: senIl17Band,  col: red,   xt: il17Ticks, yt: senTicks,  x: [-266, 4186], y: [2145, 3648],   box: [711, 345, 957, 605],  yTitleX: 677, xTitleY: 627, xl: 'IL\u221217 signaling pathwayy', yl: 'Cellular senescence' },
  { id: 'b4', pts: apoIl17,  fit: apoIl17Fit,  band: apoIl17Band,  col: slate, xt: il17Ticks, yt: apoTicks,  x: [-274, 4160], y: [3286, 4595],   box: [1032, 345, 1277, 605], yTitleX: 997, xTitleY: 627, xl: 'IL\u221217 signaling pathway', yl: 'Apoptosis' }
];

Chart.defaults.font.family = "'Liberation Sans', Arial, sans-serif";
Chart.defaults.color = '#4D4D4D';

const greyPanel = {
  id: 'greyPanel',
  beforeDraw(chart) {
    const { ctx, chartArea: a } = chart;
    ctx.save();
    ctx.fillStyle = '#EBEBEB';
    ctx.fillRect(a.left, a.top, a.right - a.left, a.bottom - a.top);
    ctx.restore();
  }
};

// major ticks plus the half-way minor grid lines that fall inside the panel
const gridValues = (major, lo, hi) => {
  const step = major[1] - major[0];
  const out = [];
  for (let v = major[0] - step; v <= major[major.length - 1] + step + 1e-9; v += step / 2) {
    if (v >= lo && v <= hi) out.push(v);
  }
  return out;
};

const axis = (major, range, title, fixed, horizontal) => ({
  type: 'linear',
  position: horizontal ? 'bottom' : 'left',
  min: range[0],
  max: range[1],
  afterBuildTicks: (s) => { s.ticks = gridValues(major, range[0], range[1]).map((value) => ({ value })); },
  afterFit: (s) => { if (horizontal) s.height = fixed; else s.width = fixed; },
  border: { display: false },
  grid: {
    color: '#FFFFFF',
    lineWidth: (c) => (major.includes(c.tick.value) ? 1.1 : 0.5),
    tickColor: (c) => (major.includes(c.tick.value) ? '#333333' : 'rgba(0,0,0,0)'),
    tickLength: 3,
    tickWidth: 1
  },
  ticks: {
    autoSkip: false,
    maxRotation: 0,
    padding: 2,
    color: '#4D4D4D',
    font: { size: 8.5 },
    callback: (v) => (major.includes(v) ? String(v) : '')
  },
  title: { display: true, text: title, color: '#000', font: { size: 11.5 }, padding: 0 }
});

const PAD_T = 10, PAD_R = 14;

panels.forEach((p) => {
  const [gl, gt, gr, gb] = p.box;
  const left = Math.round(p.yTitleX - 7);
  const top = gt - PAD_T;
  const right = gr + PAD_R;
  const bottom = Math.round(p.xTitleY + 7);
  const cv = document.getElementById(p.id);
  cv.width = right - left;
  cv.height = bottom - top;
  cv.style.left = left + 'px';
  cv.style.top = top + 'px';
  cv.style.width = (right - left) + 'px';
  cv.style.height = (bottom - top) + 'px';

  const toXY = (arr) => arr.map(([x, y]) => ({ x, y }));
  new Chart(cv, {
    type: 'scatter',
    data: {
      datasets: [
        {
          type: 'line', data: p.band.map(([x, lo, hi]) => ({ x, y: hi })), fill: '+1',
          backgroundColor: 'rgba(153,153,153,0.4)', borderColor: 'rgba(0,0,0,0)', pointRadius: 0, tension: 0.4, order: 1
        },
        {
          type: 'line', data: p.band.map(([x, lo]) => ({ x, y: lo })), fill: false,
          borderColor: 'rgba(0,0,0,0)', pointRadius: 0, tension: 0.4, order: 1
        },
        {
          type: 'line', data: toXY(p.fit), borderColor: p.col.line, borderWidth: 2.2, pointRadius: 0, fill: false, order: 0
        },
        {
          type: 'scatter', data: toXY(p.pts), backgroundColor: p.col.pt, borderWidth: 0, pointRadius: 3.3, order: 2
        }
      ]
    },
    options: {
      responsive: false,
      animation: false,
      events: [],
      layout: { padding: { top: PAD_T, right: PAD_R, left: 0, bottom: 0 } },
      plugins: { legend: { display: false }, tooltip: { enabled: false } },
      scales: {
        x: axis(p.xt, p.x, p.xl, bottom - gb, true),
        y: axis(p.yt, p.y, p.yl, gl - left, false)
      }
    },
    plugins: [greyPanel]
  });
});

// fit each caption line to the width it takes in the figure
document.querySelectorAll('.cap').forEach((el) => {
  const w = el.getBoundingClientRect().width;
  el.style.transform = `scaleX(${Number(el.dataset.w) / w})`;
});
</script>
</body>
</html>
